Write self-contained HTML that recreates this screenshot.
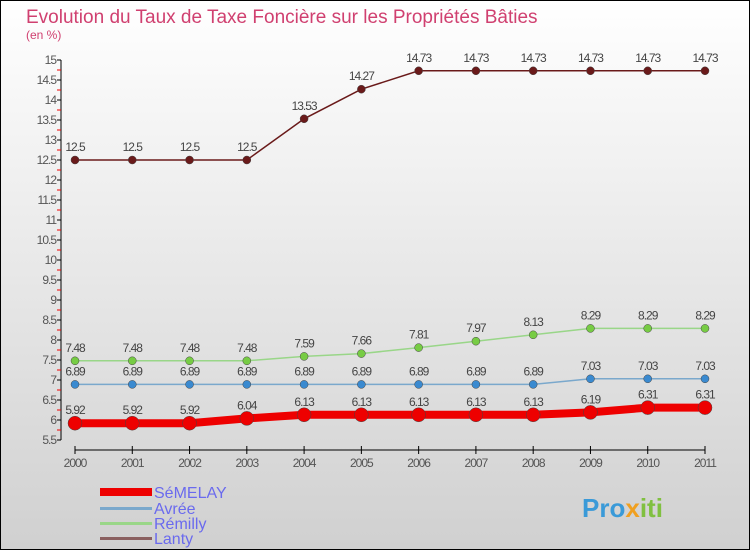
<!DOCTYPE html>
<html><head><meta charset="utf-8"><style>
body{margin:0;width:750px;height:550px;overflow:hidden;font-family:"Liberation Sans",sans-serif;}
</style></head><body>
<svg width="750" height="550" xmlns="http://www.w3.org/2000/svg">
<defs><linearGradient id="bg" x1="0" y1="0" x2="0" y2="1"><stop offset="0" stop-color="#ffffff"/><stop offset="1" stop-color="#d0d0d0"/></linearGradient></defs>
<rect x="0" y="0" width="750" height="550" fill="url(#bg)"/>
<rect x="0.5" y="0.5" width="749" height="549" fill="none" stroke="#000" stroke-width="1"/>
<text x="26" y="23" font-size="19" fill="#d04070">Evolution du Taux de Taxe Foncière sur les Propriétés Bâties</text>
<text x="26" y="39" font-size="12" fill="#d04070">(en %)</text>
<g id="axes"></g><g id="series"></g>
<g font-size="16" fill="#6a6aee">
<rect x="100" y="488" width="52" height="8" fill="#ee0000"/>
<text x="154" y="498">SéMELAY</text>
<rect x="100" y="507" width="52" height="3" fill="#7aa8cc"/>
<text x="154" y="514">Avrée</text>
<rect x="100" y="522" width="52" height="3" fill="#99d688"/>
<text x="154" y="529">Rémilly</text>
<rect x="100" y="537" width="52" height="3" fill="#8a6060"/>
<text x="154" y="544">Lanty</text>
</g>
<text x="582" y="517" font-size="26" font-weight="bold" fill="#3a9ad8">Pro<tspan fill="#f0a020">x</tspan><tspan fill="#80c040">iti</tspan></text>
</svg>
<script>
const years=[2000,2001,2002,2003,2004,2005,2006,2007,2008,2009,2010,2011];
const semelay=[5.92,5.92,5.92,6.04,6.13,6.13,6.13,6.13,6.13,6.19,6.31,6.31];
const avree=[6.89,6.89,6.89,6.89,6.89,6.89,6.89,6.89,6.89,7.03,7.03,7.03];
const remilly=[7.48,7.48,7.48,7.48,7.59,7.66,7.81,7.97,8.13,8.29,8.29,8.29];
const lanty=[12.5,12.5,12.5,12.5,13.53,14.27,14.73,14.73,14.73,14.73,14.73,14.73];
const yTicks=[5.5,6,6.5,7,7.5,8,8.5,9,9.5,10,10.5,11,11.5,12,12.5,13,13.5,14,14.5,15];
const NS="http://www.w3.org/2000/svg";
const xs=i=>75+i*(630/(years.length-1));
const ys=v=>60+(15-v)*40;
function mk(tag,attrs,parent){const e=document.createElementNS(NS,tag);for(const k in attrs)e.setAttribute(k,attrs[k]);parent.appendChild(e);return e;}
const ax=document.getElementById('axes');
let l=mk('line',{x1:61,y1:ys(15),x2:61,y2:ys(5.5),stroke:'#000'},ax);


yTicks.forEach(v=>{
 mk('line',{x1:57,y1:ys(v),x2:61,y2:ys(v),stroke:'#000'},ax);
 if(v<15) mk('line',{x1:57,y1:ys(v+0.25),x2:61,y2:ys(v+0.25),stroke:'#e00'},ax);
 const t=mk('text',{x:56,y:ys(v)+4,'font-size':12,'text-anchor':'end',fill:'#555','letter-spacing':'-1'},ax);
 t.textContent=String(v);
 
 
});
l=mk('line',{x1:xs(0),y1:450,x2:xs(years.length-1),y2:450,stroke:'#000'},ax);


years.forEach((y,i)=>{
 mk('line',{x1:xs(i),y1:446,x2:xs(i),y2:454,stroke:'#000'},ax);
 const t=mk('text',{x:xs(i),y:467,'font-size':12,'text-anchor':'middle',fill:'#555','letter-spacing':'-1'},ax);
 t.textContent=y;
 
 
});
const sg=document.getElementById('series');
function draw(name,vals,color,w,r,dot){
 const g=mk('g',{},sg);
 
 
 const p=mk('polyline',{points:vals.map((v,i)=>xs(i)+','+ys(v)).join(' '),fill:'none',stroke:color,'stroke-width':w},g);
 
 
 vals.forEach((v,i)=>{
  const c=mk('circle',{cx:xs(i),cy:ys(v),r:r,fill:dot,stroke:'#444','stroke-width':0.5},g);
  
  
  const t=mk('text',{x:xs(i),y:ys(v)-9,'font-size':12,'text-anchor':'middle',fill:'#444','letter-spacing':'-1'},g);
  t.textContent=String(v);
  
  
 });
}
draw('lanty',lanty,'#6a1a1a',1.5,4,'#6a1a1a');
draw('remilly',remilly,'#99d688',1.5,4,'#77cc44');
draw('avree',avree,'#7aa8cc',1.5,4,'#3a8ad0');
draw('semelay',semelay,'#ee0000',8,7,'#ee0000');
</script>
</body></html>
